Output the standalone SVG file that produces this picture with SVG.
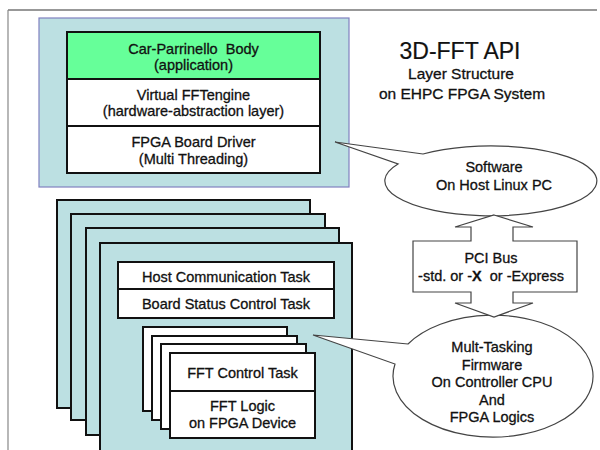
<svg xmlns="http://www.w3.org/2000/svg" width="600" height="450" viewBox="0 0 600 450">
<style>
text{font-family:"Liberation Sans",Arial,sans-serif;font-size:14.5px;fill:#111;stroke:#111;stroke-width:0.3;text-anchor:middle;white-space:pre}
.panel{fill:#bce0e2;stroke:#111;stroke-width:2}
.row{fill:#fff;stroke:#111;stroke-width:2}
.bubble{fill:#fff;stroke:#444;stroke-width:1.2}
</style>
<rect x="0" y="0" width="600" height="450" fill="#fff"/>
<g id="frame">
<line x1="8" y1="10" x2="597" y2="10" stroke="#333" stroke-width="1.2"/>
<line x1="8" y1="10" x2="8" y2="450" stroke="#888" stroke-width="1.2"/>
</g>
<g id="host-software">
<rect x="39" y="18" width="310" height="169" fill="#bce0e2" stroke="#8080c0" stroke-width="1.2"/>
<rect x="67" y="32" width="253" height="47" fill="#66ff99" stroke="#111" stroke-width="2"/>
<rect x="67" y="79" width="253" height="47" class="row"/>
<rect x="67" y="126" width="253" height="47" class="row"/>
<text x="193.5" y="54" xml:space="preserve">Car-Parrinello  Body</text>
<text x="193.5" y="70">(application)</text>
<text x="193.5" y="100">Virtual FFTengine</text>
<text x="193.5" y="116">(hardware-abstraction layer)</text>
<text x="193.5" y="147">FPGA Board Driver</text>
<text x="193.5" y="164">(Multi Threading)</text>
</g>
<g id="title">
<text x="460" y="59" style="font-size:23px;stroke-width:0.2">3D-FFT API</text>
<text x="461" y="79" style="font-size:15.5px">Layer Structure</text>
<text x="462" y="99" style="font-size:15.5px">on EHPC FPGA System</text>
</g>
<g id="firmware-boards">
<rect x="57" y="200" width="253" height="208" class="panel"/>
<rect x="71" y="214" width="254" height="206" class="panel"/>
<rect x="86" y="228" width="253" height="207" class="panel"/>
<rect x="100" y="243" width="252" height="208" class="panel"/>
<rect x="118" y="262" width="216" height="27" class="row"/>
<rect x="118" y="289" width="216" height="29" class="row"/>
<text x="226" y="282">Host Communication Task</text>
<text x="226" y="309">Board Status Control Task</text>
<rect x="143" y="327" width="144" height="84" class="row"/>
<rect x="152" y="336" width="145" height="84" class="row"/>
<rect x="161" y="344" width="145" height="85" class="row"/>
<rect x="170" y="353" width="145" height="38" class="row"/>
<rect x="170" y="391" width="145" height="47" class="row"/>
<text x="242.5" y="378">FFT Control Task</text>
<text x="242.5" y="411">FFT Logic</text>
<text x="242.5" y="428">on FPGA Device</text>
</g>
<g id="software-callout">
<path class="bubble" d="M423,154 L335,142 L398,164 A106 35 0 1 0 423,154 Z"/>
<text x="494" y="172">Software</text>
<text x="494" y="190">On Host Linux PC</text>
</g>
<g id="firmware-callout">
<path class="bubble" d="M408,344 L313,335 L395,364 A100 61 0 1 0 408,344 Z"/>
<text x="492" y="352">Mult-Tasking</text>
<text x="492" y="370">Firmware</text>
<text x="492" y="387">On Controller CPU</text>
<text x="492" y="405">And</text>
<text x="492" y="422">FPGA Logics</text>
</g>
<g id="connectors">
<path d="M494,215 L533,227 L513,227 L513,241 L577,241 L577,292 L513,292 L513,303 L533,303 L494,317 L455,303 L471,303 L471,292 L413,292 L413,241 L471,241 L471,227 L455,227 Z" fill="#fff" stroke="#444" stroke-width="1.2"/>
</g>
<g id="pci-bus">
<text x="491" y="263">PCI Bus</text>
<text x="491" y="281" xml:space="preserve">-std. or -<tspan font-weight="bold">X</tspan>  or -Express</text>
</g>
</svg>
